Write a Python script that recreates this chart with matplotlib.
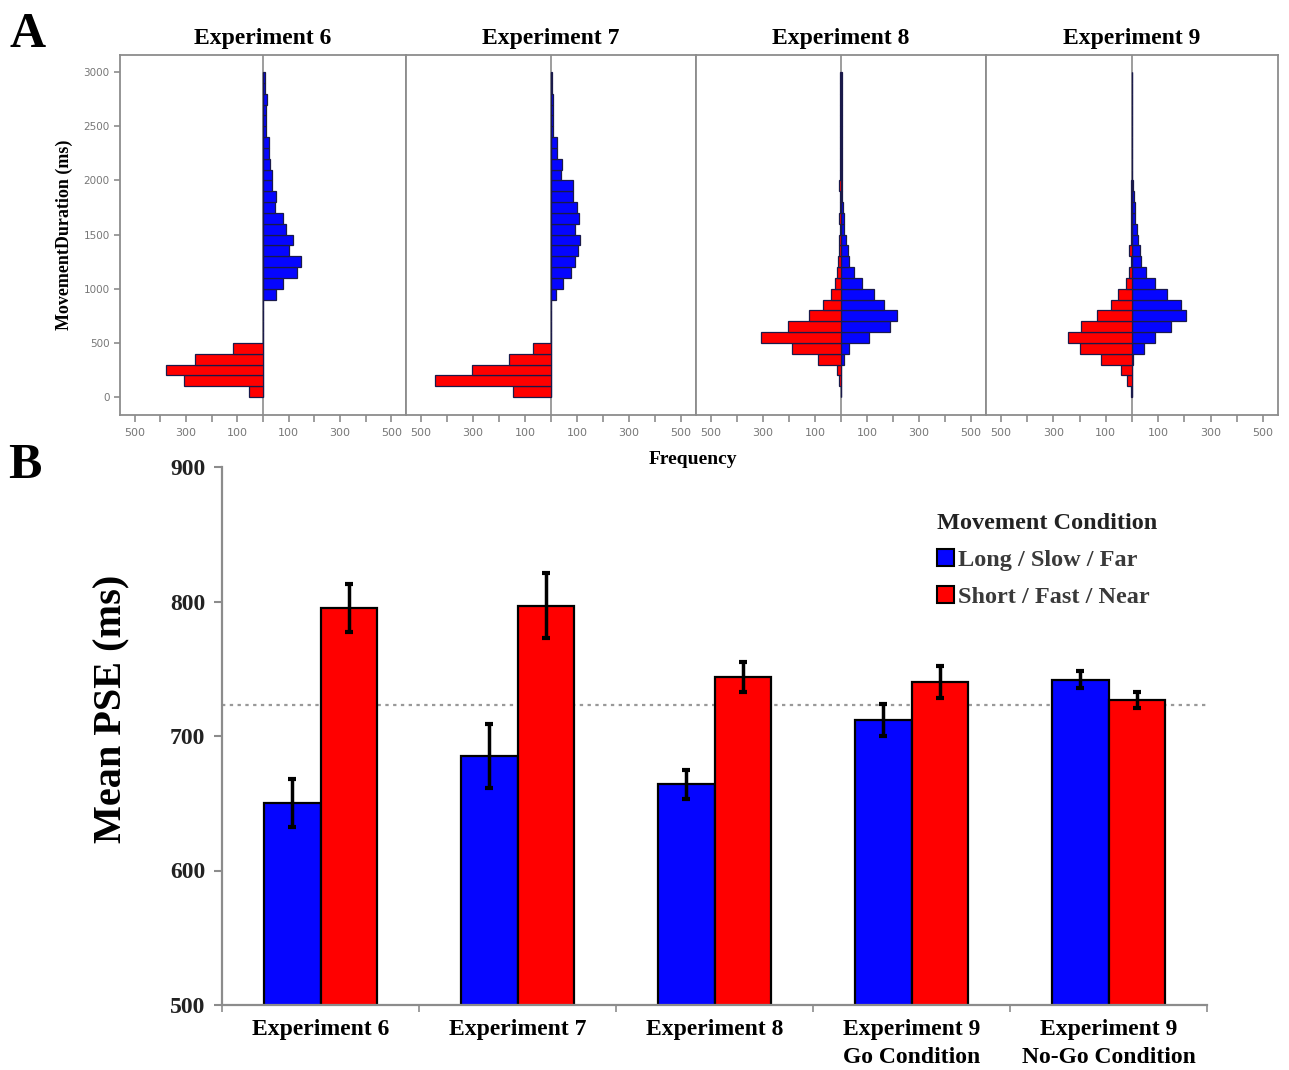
import matplotlib
matplotlib.use("Agg")
import matplotlib.pyplot as plt
from matplotlib.patches import Patch
import numpy as np

plt.rcParams['font.family'] = ['Liberation Serif', 'DejaVu Serif']

# ---------------- Panel A data (histograms, 100-ms bins from 0 to 3000 ms) ----------------
bin_edges = list(range(0, 3000, 100))
hist_titles = ["Experiment 6", "Experiment 7", "Experiment 8", "Experiment 9"]

exp6_short = [55, 308, 378, 263, 115] + [0] * 25
exp6_long = [0] * 9 + [49, 77, 132, 147, 103, 115, 90, 77, 45, 49, 35, 35, 26, 22, 22, 13, 10, 10, 14, 6, 6]

exp7_short = [147, 445, 304, 160, 70] + [0] * 25
exp7_long = [0] * 9 + [19, 47, 77, 94, 103, 112, 94, 109, 100, 83, 86, 38, 42, 22, 22, 9, 9, 6, 6, 4, 2]

exp8_short = [0, 6, 15, 90, 188, 306, 204, 124, 69, 38, 22, 15, 12, 9, 6, 5, 6, 4, 4, 6,
              2, 2, 2, 2, 2, 2, 2, 2, 2, 2]
exp8_long = [0, 0, 0, 10, 32, 106, 190, 215, 167, 126, 81, 49, 31, 26, 21, 13, 10, 8, 5, 4,
             2, 2, 2, 2, 2, 2, 2, 2, 2, 2]

exp9_short = [3, 19, 41, 119, 199, 246, 195, 132, 81, 54, 23, 12, 5, 10, 2, 2, 2, 2, 2, 2] + [0] * 10
exp9_long = [0, 0, 0, 4, 45, 86, 147, 205, 186, 135, 86, 55, 36, 29, 22, 19, 13, 10, 6, 2,
             1, 1, 1, 1, 1, 0, 0, 0, 0, 0]

hist_short = [exp6_short, exp7_short, exp8_short, exp9_short]
hist_long = [exp6_long, exp7_long, exp8_long, exp9_long]

freq_ticks = [-500, -300, -100, 100, 300, 500]
freq_ticklabels = ["500", "300", "100", "100", "300", "500"]
dur_ticks = [0, 500, 1000, 1500, 2000, 2500, 3000]

# ---------------- Panel B data (mean PSE) ----------------
conditions = ["Experiment 6", "Experiment 7", "Experiment 8",
              "Experiment 9\nGo Condition", "Experiment 9\nNo-Go Condition"]
pse_long = [650, 685, 664, 712, 742]
pse_short = [795, 797, 744, 740, 727]
err_long = [18, 24, 11, 12, 6]
err_short = [18, 24, 11, 12, 6]
reference_pse = 723
series_names = ["Long / Slow / Far", "Short / Fast / Near"]

BLUE = "#0505FF"
RED = "#FF0000"
GRAY = "#8c8c8c"

W, H = 1289, 1070
fig = plt.figure(figsize=(W / 100, H / 100), dpi=100)


def fx(px):
    return px / W


def fy(py):
    return 1 - py / H


# ---------------- Panel A ----------------
a_left = [120, 406, 696, 986]
a_right = [406, 696, 986, 1278]
a_top, a_bot = 55, 415
for i in range(4):
    ax = fig.add_axes([fx(a_left[i]), fy(a_bot), fx(a_right[i] - a_left[i]), (a_bot - a_top) / H])
    ax.barh(bin_edges, hist_long[i], height=100, align='edge', color=BLUE,
            edgecolor='#1a1a4a', linewidth=0.9)
    ax.barh(bin_edges, [-v for v in hist_short[i]], height=100, align='edge', color=RED,
            edgecolor='#1a1a4a', linewidth=0.9)
    ax.axvline(0, color=GRAY, lw=1.2, zorder=0)
    ax.set_xlim(-557, 557)
    ax.set_ylim(-166, 3157)
    ax.set_xticks(freq_ticks)
    ax.set_xticklabels(freq_ticklabels, fontsize=8, color='#777777', family=['DejaVu Sans'])
    ax.set_xticks([-400, -200, 0, 200, 400], minor=True)
    ax.tick_params(axis='x', which='both', direction='out', length=5, color=GRAY, width=1.2, pad=4)
    for s in ax.spines.values():
        s.set_color(GRAY)
        s.set_linewidth(1.3)
    if i == 0:
        ax.set_yticks(dur_ticks)
        ax.set_yticklabels([str(t) for t in dur_ticks], fontsize=7.5, color='#777777',
                           family=['DejaVu Sans'])
        ax.tick_params(axis='y', direction='out', length=4, color=GRAY, width=1.2)
        ax.set_ylabel("MovementDuration (ms)", fontsize=13, fontweight='bold')
        ax.yaxis.set_label_coords(-0.164, 0.5)
    else:
        ax.set_yticks([])
    ax.set_title(hist_titles[i], fontsize=17, fontweight='bold', pad=8)

fig.text(fx(693), fy(460), "Frequency", ha='center', va='center', fontsize=14, fontweight='bold')
fig.text(fx(28), fy(47), "A", ha='center', va='baseline', fontsize=36, fontweight='bold')
fig.text(fx(25), fy(478), "B", ha='center', va='baseline', fontsize=36, fontweight='bold')

# ---------------- Panel B ----------------
axb = fig.add_axes([fx(222), fy(1005), fx(1207 - 222), (1005 - 467) / H])
x = np.arange(len(conditions))
bw = 0.286
axb.bar(x - bw / 2, pse_long, width=bw, color=BLUE, edgecolor='black', linewidth=1.6,
        bottom=0, zorder=2)
axb.bar(x + bw / 2, pse_short, width=bw, color=RED, edgecolor='black', linewidth=1.6,
        bottom=0, zorder=2)
axb.errorbar(x - bw / 2, pse_long, yerr=err_long, fmt='none', ecolor='black', elinewidth=2.5,
             capsize=3, capthick=3, zorder=3)
axb.errorbar(x + bw / 2, pse_short, yerr=err_short, fmt='none', ecolor='black', elinewidth=2.5,
             capsize=3, capthick=3, zorder=3)
axb.axhline(reference_pse, color='#999999', linestyle=(0, (1.5, 2)), lw=1.6, zorder=1)
axb.set_ylim(500, 900)
axb.set_xlim(-0.5, 4.5)
axb.set_yticks([500, 600, 700, 800, 900])
axb.set_yticklabels(["500", "600", "700", "800", "900"], fontsize=17, fontweight='bold',
                    color='#222222')
axb.set_xticks(x)
axb.set_xticklabels(conditions, fontsize=17, fontweight='bold', linespacing=1.45)
axb.set_xticks(np.arange(-0.5, 5.0, 1.0), minor=True)
axb.tick_params(axis='x', which='major', length=0, pad=10)
axb.tick_params(axis='x', which='minor', length=5, color=GRAY, width=1.2, direction='out')
axb.tick_params(axis='y', length=6, color=GRAY, width=1.5, direction='out', pad=6)
for side in ['top', 'right']:
    axb.spines[side].set_visible(False)
for side in ['left', 'bottom']:
    axb.spines[side].set_color(GRAY)
    axb.spines[side].set_linewidth(1.6)
axb.set_ylabel("Mean PSE (ms)", fontsize=29, fontweight='bold')
axb.yaxis.set_label_coords(-0.093, 0.55)

handles = [Patch(facecolor=BLUE, edgecolor='black', linewidth=1.5, label=series_names[0]),
           Patch(facecolor=RED, edgecolor='black', linewidth=1.5, label=series_names[1])]
leg = axb.legend(handles=handles, title="Movement Condition", loc='upper left',
                 bbox_to_anchor=(0.704, 0.955), frameon=False,
                 prop={'weight': 'bold', 'size': 17.5},
                 title_fontproperties={'weight': 'bold', 'size': 17.5},
                 handlelength=0.7, handleheight=0.7, handletextpad=0.15, labelspacing=0.62,
                 alignment='left')
for t in leg.get_texts():
    t.set_color('#3a3a3a')
leg.get_title().set_color('#222222')

fig.savefig("out.png", dpi=100)
